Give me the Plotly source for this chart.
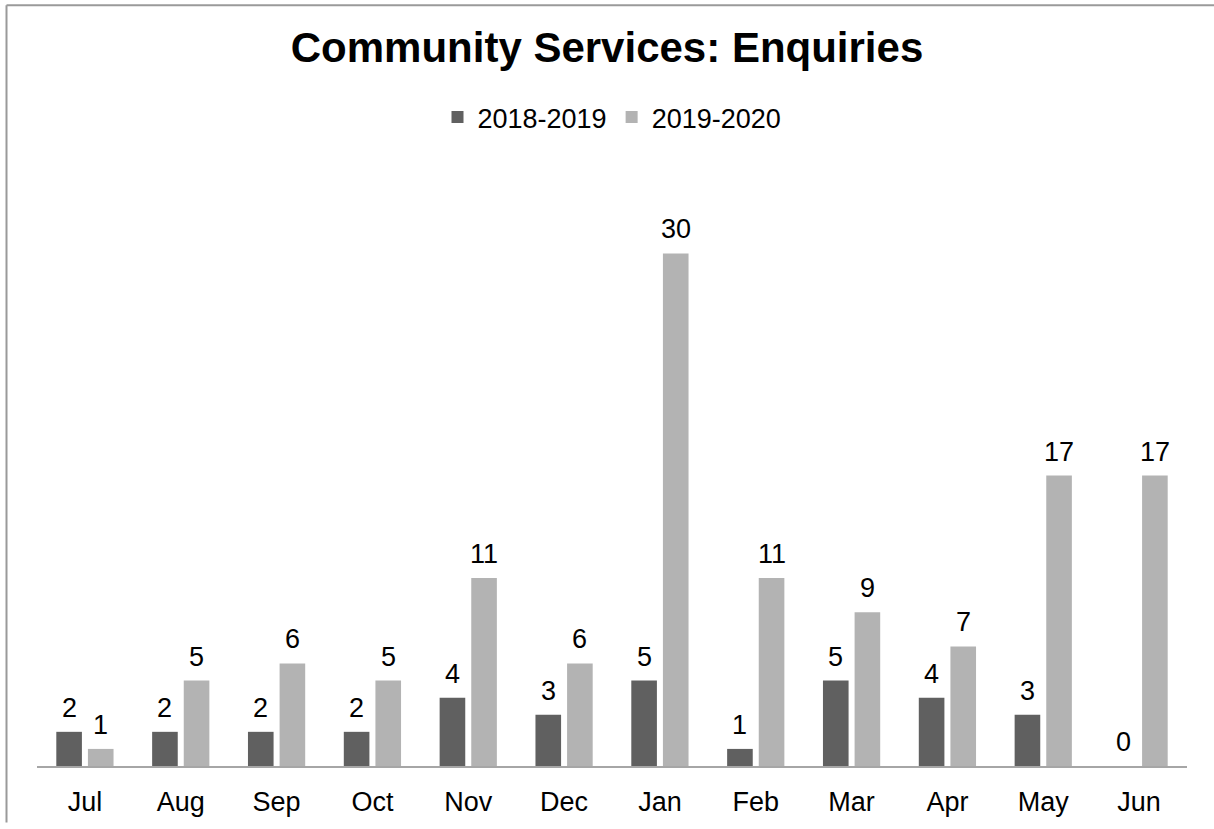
import plotly.graph_objects as go

months = ["Jul", "Aug", "Sep", "Oct", "Nov", "Dec", "Jan", "Feb", "Mar", "Apr", "May", "Jun"]
fy_2018_2019 = [2, 2, 2, 2, 4, 3, 5, 1, 5, 4, 3, 0]
fy_2019_2020 = [1, 5, 6, 5, 11, 6, 30, 11, 9, 7, 17, 17]

series = [
    ("2018-2019", fy_2018_2019, "#606060"),
    ("2019-2020", fy_2019_2020, "#b3b3b3"),
]

W, H = 1214, 829
ML, MR, MT, MB = 37, 27, 168, 57
FONT = "Liberation Sans, Arial, sans-serif"

xs = list(range(len(months)))
offsets = [-0.165, 0.165]

fig = go.Figure()
annotations = []
for (name, vals, color), off in zip(series, offsets):
    fig.add_trace(go.Bar(
        x=xs, y=vals, name=name,
        marker=dict(color=color, line=dict(width=0)),
    ))
    for i, v in zip(xs, vals):
        annotations.append(dict(
            x=i + off, y=v, xref="x", yref="y", text=str(v), showarrow=False,
            yanchor="bottom", yshift=7, font=dict(family=FONT, size=27, color="#000000"),
        ))

# chart frame: only the top and left edges fall inside the page
pw = W - ML - MR
ph = H - MT - MB
fx0 = (6.5 - ML) / pw
fy1 = (H - MB - 3.5) / ph
frame = dict(line=dict(color="#9a9a9a", width=2), xref="paper", yref="paper", layer="below")
fig.add_shape(type="line", x0=fx0, x1=1 + MR / pw, y0=fy1, y1=fy1, **frame)
fig.add_shape(type="line", x0=fx0, x1=fx0, y0=-MB / ph, y1=fy1, **frame)

fig.update_layout(
    width=W, height=H,
    margin=dict(l=ML, r=MR, t=MT, b=MB),
    paper_bgcolor="white", plot_bgcolor="white",
    barmode="group", bargap=0.34, bargroupgap=0.19,
    title=dict(text="<b>Community Services: Enquiries</b>", x=0.5, xanchor="center",
               y=1 - 47 / H, yanchor="middle",
               font=dict(family=FONT, size=42, color="#000000")),
    legend=dict(orientation="h", x=0.5, xanchor="center", y=(H - MB - 117) / ph, yanchor="middle",
                font=dict(family=FONT, size=27, color="#000000"), itemwidth=30,
                bgcolor="rgba(0,0,0,0)"),
    xaxis=dict(tickmode="array", tickvals=xs, ticktext=months, range=[-0.5, 11.5],
               showline=True, linecolor="#a6a6a6", linewidth=2, ticks="",
               showgrid=False, zeroline=False, ticklabelstandoff=11,
               tickfont=dict(family=FONT, size=27, color="#000000")),
    yaxis=dict(range=[0, 35], visible=False, showgrid=False, zeroline=False),
    annotations=annotations,
    showlegend=True,
)

fig.write_html("out.html")
